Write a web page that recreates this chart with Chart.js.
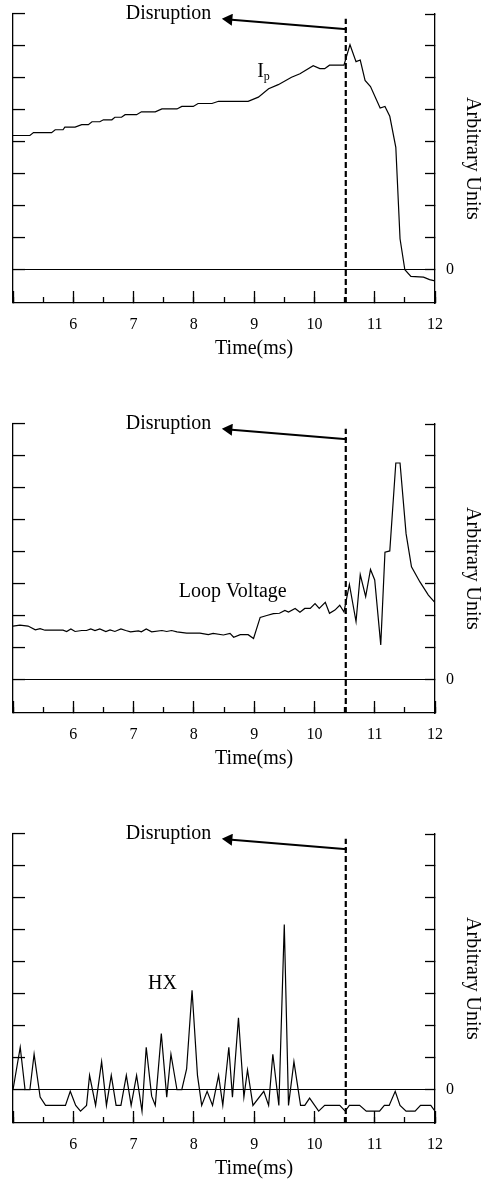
<!DOCTYPE html>
<html>
<head>
<meta charset="utf-8">
<script src="https://cdn.jsdelivr.net/npm/chart.js@4.4.1/dist/chart.umd.min.js"></script>
<style>
  html, body { margin: 0; padding: 0; background: #fff; }
  .panel { position: absolute; left: 0; width: 484px; height: 362px; }
</style>
</head>
<body>
<div class="panel" style="top:0px"><canvas id="ipChart"></canvas></div>
<div class="panel" style="top:410px"><canvas id="loopChart"></canvas></div>
<div class="panel" style="top:820px"><canvas id="hxChart"></canvas></div>
<script>
// axis ranges (ms / arbitrary units)
const tMin = 5, tMax = 12;
const yMin = -1.04, yMax = 8;
const disruptTime = 10.52;
const dashTop = 7.85;
const arrowTail = { x: 10.54, y: 7.52 };
const arrowHead = { x: 8.58, y: 7.83 };
const disruptLabel = { x: 6.87, y: 7.85 };

// plasma current
const ipTime = [5.0, 5.28, 5.34, 5.64, 5.70, 5.83, 5.86, 6.03, 6.14, 6.25,
  6.31, 6.44, 6.50, 6.64, 6.69, 6.80, 6.86, 7.05, 7.13, 7.36,
  7.47, 7.72, 7.80, 7.99, 8.07, 8.30, 8.41, 8.90, 9.07, 9.24,
  9.40, 9.62, 9.76, 9.98, 10.09, 10.17, 10.25, 10.49, 10.59, 10.69,
  10.76, 10.84, 10.93, 11.09, 11.17, 11.25, 11.35, 11.42, 11.50, 11.60,
  11.81, 11.91, 12.0];
const ipValue = [4.20, 4.20, 4.29, 4.29, 4.38, 4.38, 4.46, 4.46, 4.54, 4.54,
  4.63, 4.63, 4.69, 4.69, 4.77, 4.77, 4.85, 4.85, 4.94, 4.94,
  5.03, 5.03, 5.11, 5.11, 5.20, 5.20, 5.27, 5.27, 5.40, 5.66,
  5.79, 6.02, 6.13, 6.38, 6.29, 6.29, 6.40, 6.40, 7.04, 6.51,
  6.56, 5.92, 5.73, 5.06, 5.11, 4.80, 3.83, 0.97, 0.0, -0.21,
  -0.23, -0.31, -0.35];

// loop voltage
const loopTime = [5.0, 5.115, 5.25, 5.37, 5.45, 5.53, 5.83, 5.89, 5.96, 6.03,
  6.14, 6.22, 6.29, 6.36, 6.44, 6.54, 6.61, 6.69, 6.79, 6.87,
  6.95, 7.08, 7.13, 7.21, 7.30, 7.47, 7.55, 7.63, 7.72, 7.88,
  8.10, 8.24, 8.32, 8.49, 8.60, 8.66, 8.77, 8.90, 8.99, 9.10,
  9.21, 9.32, 9.42, 9.51, 9.57, 9.68, 9.76, 9.84, 9.93, 10.01,
  10.08, 10.18, 10.25, 10.34, 10.42, 10.49, 10.58, 10.69, 10.76, 10.85,
  10.93, 11.00, 11.10, 11.17, 11.25, 11.35, 11.42, 11.52, 11.61, 11.75,
  11.89, 12.0];
const loopValue = [1.68, 1.71, 1.68, 1.56, 1.60, 1.55, 1.55, 1.51, 1.59, 1.51,
  1.54, 1.54, 1.59, 1.54, 1.59, 1.51, 1.56, 1.51, 1.59, 1.54,
  1.50, 1.53, 1.50, 1.59, 1.50, 1.54, 1.51, 1.54, 1.50, 1.46,
  1.46, 1.41, 1.45, 1.40, 1.45, 1.33, 1.41, 1.41, 1.29, 1.95,
  2.01, 2.07, 2.08, 2.17, 2.12, 2.23, 2.11, 2.23, 2.23, 2.38,
  2.23, 2.42, 2.08, 2.18, 2.33, 2.12, 2.98, 1.82, 3.29, 2.60,
  3.45, 3.12, 1.09, 3.99, 4.03, 6.78, 6.78, 4.57, 3.53, 3.06,
  2.65, 2.41];

// HX signal
const hxTime = [5.0, 5.12, 5.20, 5.28, 5.35, 5.45, 5.54, 5.87, 5.95, 6.04,
  6.12, 6.22, 6.27, 6.37, 6.47, 6.55, 6.63, 6.71, 6.79, 6.88,
  6.96, 7.05, 7.14, 7.21, 7.30, 7.36, 7.46, 7.55, 7.62, 7.72,
  7.80, 7.88, 7.97, 8.06, 8.13, 8.22, 8.31, 8.41, 8.48, 8.58,
  8.64, 8.74, 8.83, 8.89, 8.98, 9.16, 9.24, 9.31, 9.41, 9.50,
  9.57, 9.66, 9.77, 9.84, 9.92, 10.07, 10.17, 10.42, 10.51, 10.58,
  10.75, 10.86, 11.08, 11.16, 11.24, 11.34, 11.42, 11.52, 11.67, 11.76,
  11.93, 12.0];
const hxValue = [0, 1.33, 0, 0, 1.11, -0.23, -0.49, -0.49, -0.05, -0.49,
  -0.67, -0.49, 0.45, -0.49, 0.88, -0.49, 0.45, -0.49, -0.49, 0.45,
  -0.49, 0.45, -0.67, 1.33, -0.20, -0.49, 1.76, -0.23, 1.11, 0,
  0, 0.65, 3.11, 0.45, -0.49, -0.05, -0.49, 0.45, -0.49, 1.33,
  -0.23, 2.25, -0.23, 0.62, -0.49, -0.05, -0.49, 1.11, -0.49, 5.17,
  -0.49, 0.88, -0.49, -0.49, -0.26, -0.67, -0.49, -0.49, -0.67, -0.49,
  -0.49, -0.67, -0.67, -0.49, -0.49, -0.05, -0.49, -0.67, -0.67, -0.49,
  -0.49, -0.67];

const serif = "'Liberation Serif', 'Times New Roman', serif";
Chart.defaults.font.family = serif;
Chart.defaults.color = '#000';

function dropBelowZero(scale) {
  scale.ticks = scale.ticks.filter(t => t.value >= 0);
}

// fixed axis size, no label overhang padding
function fixSize(w, h) {
  return s => {
    if (w !== null) s.width = w;
    if (h !== null) s.height = h;
    s.paddingLeft = s.paddingRight = s.paddingTop = s.paddingBottom = 0;
  };
}

// text labels placed in data coordinates
const annotate = {
  id: 'annotate',
  afterDatasetsDraw(chart, args, opts) {
    const { ctx, chartArea } = chart;
    const x = chart.scales.x, y = chart.scales.y;
    ctx.save();
    ctx.fillStyle = '#000';
    ctx.textBaseline = 'alphabetic';
    ctx.textAlign = 'left';
    ctx.font = '20px ' + serif;
    ctx.fillText('Disruption', x.getPixelForValue(disruptLabel.x), y.getPixelForValue(disruptLabel.y));
    const lx = x.getPixelForValue(opts.x), ly = y.getPixelForValue(opts.y);
    ctx.fillText(opts.text, lx, ly);
    if (opts.sub) {
      const w = ctx.measureText(opts.text).width;
      ctx.font = '12px ' + serif;
      ctx.fillText(opts.sub, lx + w, ly + 3);
    }
    ctx.font = '20px ' + serif;
    ctx.textAlign = 'center';
    ctx.fillText('Time(ms)', x.getPixelForValue(9), chartArea.bottom + 51);
    ctx.restore();
  }
};

function buildPanel(id, times, values, label) {
  const curve = times.map((t, i) => ({ x: t, y: values[i] }));
  return new Chart(document.getElementById(id), {
    type: 'line',
    data: {
      datasets: [
        { data: curve, borderColor: '#000', borderWidth: 1.2, pointRadius: 0, tension: 0 },
        { data: [{ x: disruptTime, y: yMin }, { x: disruptTime, y: dashTop }],
          borderColor: '#000', borderWidth: 2.2, borderDash: [6, 3], pointRadius: 0 },
        { data: [arrowTail, arrowHead], borderColor: '#000', backgroundColor: '#000',
          borderWidth: 2, pointRadius: [0, 5], pointStyle: 'triangle', pointRotation: -85 }
      ]
    },
    options: {
      responsive: true,
      maintainAspectRatio: false,
      animation: false,
      events: [],
      layout: { padding: { top: 14, left: 0, right: 0, bottom: 0 } },
      plugins: { legend: { display: false }, tooltip: { enabled: false }, annotate: label },
      scales: {
        x: {
          type: 'linear', position: 'bottom', min: tMin, max: tMax, weight: 1,
          ticks: { stepSize: 1, padding: 24, font: { size: 16 }, color: '#000',
                   callback: v => v === tMin ? '' : v },
          grid: { drawOnChartArea: false, tickLength: -12, tickColor: '#000', tickWidth: 1.3 },
          border: { color: '#000', width: 1.3 },
          afterFit: fixSize(null, 59)
        },
        xMinor: {
          type: 'linear', position: 'bottom', min: tMin, max: tMax, weight: 0,
          ticks: { stepSize: 0.5, display: false },
          grid: { drawOnChartArea: false, tickLength: -6, tickColor: '#000', tickWidth: 1.3 },
          border: { display: false },
          afterFit: fixSize(null, 0)
        },
        y: {
          position: 'left', min: yMin, max: yMax,
          afterBuildTicks: dropBelowZero,
          ticks: { stepSize: 1, display: false },
          grid: { drawOnChartArea: true, lineWidth: 1.1,
                  color: c => (c.tick && c.tick.value === 0) ? '#000' : 'rgba(0,0,0,0)',
                  tickLength: -12, tickColor: '#000', tickWidth: 1.3 },
          border: { color: '#000', width: 1.3 },
          afterFit: fixSize(13, null)
        },
        y2: {
          position: 'right', min: yMin, max: yMax,
          afterBuildTicks: dropBelowZero,
          ticks: { stepSize: 1, padding: 21, font: { size: 16 }, color: '#000',
                   callback: v => v === 0 ? '0' : '' },
          grid: { drawOnChartArea: false, tickLength: -10, tickColor: '#000', tickWidth: 1.3 },
          border: { color: '#000', width: 1.3 },
          title: { display: true, text: 'Arbitrary Units', color: '#000',
                   font: { size: 20 }, padding: { top: 0, bottom: 0 } },
          afterFit: fixSize(49, null)
        }
      }
    },
    plugins: [annotate]
  });
}

buildPanel('ipChart', ipTime, ipValue, { text: 'I', sub: 'p', x: 9.05, y: 6.04 });
buildPanel('loopChart', loopTime, loopValue, { text: 'Loop Voltage', x: 7.75, y: 2.60 });
buildPanel('hxChart', hxTime, hxValue, { text: 'HX', x: 7.24, y: 3.14 });
</script>
</body>
</html>
